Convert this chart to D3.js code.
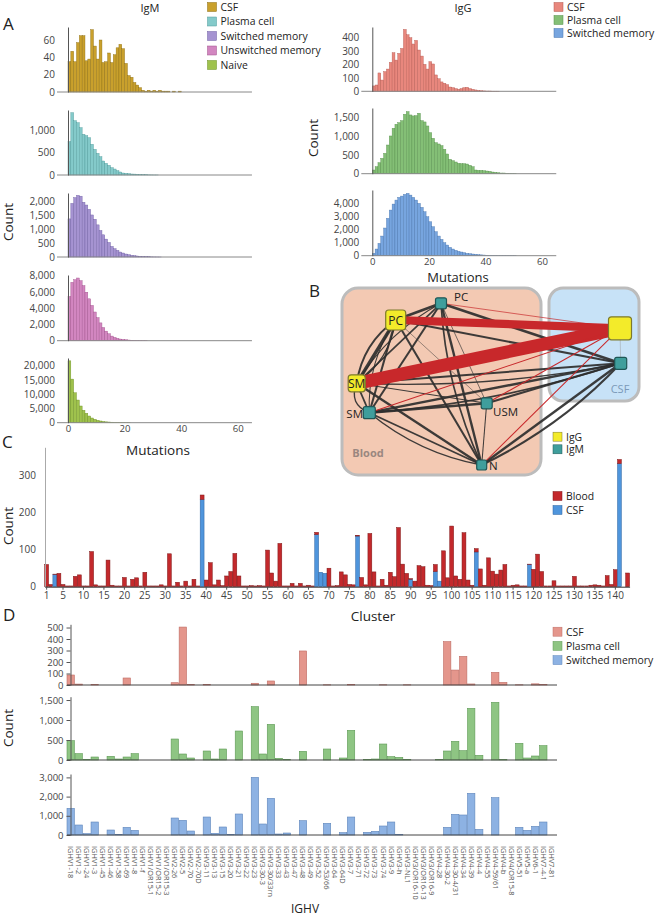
<!DOCTYPE html>
<html><head><meta charset="utf-8">
<script src="https://cdn.jsdelivr.net/npm/d3@7"></script>
<style>body{margin:0;background:#fff}svg{display:block;font-family:'Open Sans',sans-serif}</style>
</head><body><svg id="c" width="661" height="917"></svg>
<script>
// ---------------- DATA ----------------
// Panel A: mutation histograms (counts per mutation bin 0,1,2,...)
const igmCSF = [35,47,35,57,65,65,36,38,72,53,38,60,34,35,45,34,43,51,55,50,33,19,17,11,8,5,2,1,2,1,2,1,2,1,1,1,0,1,0,1];
const igmPlasma = [741,1385,1207,1163,1052,904,874,830,682,570,481,407,311,259,215,163,133,96,67,44,37,30,22,20,15,10,7,5,3,2,1,1];
const igmSwitched = [1378,1940,2150,2230,2200,1980,1880,1725,1521,1366,1162,958,803,647,527,383,300,240,180,144,108,84,60,48,36,24,18,12,8,5,3,2,1];
const igmUnswitched = [5440,7186,7511,7717,7389,6780,5968,5156,4344,3532,2842,2192,1624,1177,853,568,406,284,203,162,120,80,60,40,30,20,10,5];
const igmNaive = [21700,15300,10500,7950,5860,4350,3300,2350,1650,1190,840,600,430,300,240,180,120,90,60,40,20,10];
const iggCSF = [40,47,137,84,147,166,216,288,233,283,320,462,422,400,353,380,308,263,201,166,221,204,122,94,70,60,50,32,27,20,15,20,27,30,20,15,10,7,5,3,2,2,1,1,1];
const iggPlasma = [98,186,293,408,541,763,1003,1207,1314,1358,1411,1580,1651,1562,1536,1544,1607,1411,1376,1269,1092,941,825,790,746,648,524,382,346,311,275,266,266,257,222,186,98,89,89,80,71,62,44,36,27,18,18,9,5,3,2];
const iggSwitched = [177,505,934,1490,2100,2833,3462,3917,4220,4424,4523,4651,4727,4598,4424,4220,3970,3667,3333,2955,2576,2197,1818,1490,1237,985,808,631,505,404,328,278,227,177,151,126,101,76,63,50,38,30,25,20,15,10,8,6,4,3,2];
const igmLegend = ["CSF","Plasma cell","Switched memory","Unswitched memory","Naive"];
const iggLegend = ["CSF","Plasma cell","Switched memory"];
const mutationTicks = [0,20,40,60];

// Panel B: network
const netNodes = [
  {id:"gPC", label:"PC", iso:"IgG", comp:"Blood"},
  {id:"mPC", label:"PC", iso:"IgM", comp:"Blood"},
  {id:"gSM", label:"SM", iso:"IgG", comp:"Blood"},
  {id:"mSM", label:"SM", iso:"IgM", comp:"Blood"},
  {id:"USM", label:"USM", iso:"IgM", comp:"Blood"},
  {id:"N",   label:"N",  iso:"IgM", comp:"Blood"},
  {id:"gCSF",label:"",   iso:"IgG", comp:"CSF"},
  {id:"mCSF",label:"",   iso:"IgM", comp:"CSF"}
];
const netEdges = [
  ["gPC","mPC",8],["gPC","gSM",10],["gPC","gSM",6],["gPC","gSM",4],
  ["gPC","mSM",6],["gPC","mSM",3],["gPC","USM",1.5],["gPC","N",6],
  ["mPC","gSM",5],["mPC","gSM",3],["mPC","mSM",6],["mPC","USM",2],
  ["mPC","N",7],["mPC","N",5],["gSM","mSM",5],["gSM","mSM",4],
  ["gSM","USM",3],["gSM","N",7],["mSM","USM",7],["mSM","N",5],["mSM","N",4],["USM","N",3],
  ["gPC","mCSF",6],["mPC","mCSF",8],["gSM","mCSF",6],["gSM","mCSF",4],
  ["mSM","mCSF",7],["mSM","mCSF",5],["USM","mCSF",6],["N","mCSF",7],["N","mCSF",6],
  ["gCSF","mCSF",1],
  ["gPC","gCSF",24],["gSM","gCSF",38],["mPC","gCSF",2],["mSM","gCSF",3],["USM","gCSF",3],["N","gCSF",3]
];

// Panel C: clusters 1..143 (Blood stacked on CSF)
const clusterBlood = [60,6,1,36,6,2,2,28,32,2,2,95,5,2,2,72,4,2,2,25,2,20,24,2,39,2,2,2,5,2,89,2,12,2,15,2,20,2,12,18,65,5,18,3,29,41,90,29,2,2,3,2,3,2,99,37,15,117,2,2,9,2,9,2,4,2,6,0,0,50,2,3,40,32,6,5,2,25,5,144,40,2,20,4,39,27,160,61,36,2,15,57,54,4,3,19,0,97,24,164,29,20,146,18,4,9,48,4,78,42,34,45,60,2,4,5,2,2,1,47,88,41,2,2,16,2,2,2,2,28,2,2,2,4,5,4,2,30,6,46,11,0,37];
const clusterCSF = [0,0,33,0,0,0,0,0,0,0,0,0,0,0,0,0,0,0,0,0,0,0,0,0,0,0,0,0,0,0,0,0,0,0,0,0,0,0,236,0,0,0,0,0,0,0,0,0,0,0,0,0,0,0,0,0,0,0,0,0,0,0,0,0,0,0,141,39,36,0,0,0,0,0,0,0,137,0,0,0,0,0,0,0,0,0,0,0,0,20,0,0,0,0,0,41,15,0,0,0,0,0,0,0,0,94,0,0,0,0,0,0,0,0,0,0,0,0,60,0,0,0,0,0,0,0,0,0,0,0,0,0,0,0,0,0,0,0,0,0,333,0,0];
const clusterTicks = [1,5,10,15,20,25,30,35,40,45,50,55,60,65,70,75,80,85,90,95,100,105,110,115,120,125,130,135,140];

// Panel D: IGHV usage
const ighv = ["IGHV1-18","IGHV1-2","IGHV1-24","IGHV1-3","IGHV1-45","IGHV1-46","IGHV1-58","IGHV1-69","IGHV1-8","IGHV1-f","IGHV1/OR15-1","IGHV1/OR15-2","IGHV1/OR15-3","IGHV2-26","IGHV2-5","IGHV2-70","IGHV2-70D","IGHV3-11","IGHV3-13","IGHV3-15","IGHV3-20","IGHV3-21","IGHV3-22","IGHV3-23","IGHV3-30-3","IGHV3-30/33rn","IGHV3-33","IGHV3-43","IGHV3-47","IGHV3-48","IGHV3-49","IGHV3-52","IGHV3-53/66","IGHV3-64","IGHV3-64D","IGHV3-7","IGHV3-71","IGHV3-72","IGHV3-73","IGHV3-74","IGHV3-9","IGHV3-h","IGHV3-NL1","IGHV3/OR16-10","IGHV3/OR16-13","IGHV3/OR16-9","IGHV4-28","IGHV4-30-2","IGHV4-30-4/31","IGHV4-34","IGHV4-39","IGHV4-4","IGHV4-55","IGHV4-59/61","IGHV4-b","IGHV4/OR15-8","IGHV5-51","IGHV5-a","IGHV6-1","IGHV7-4-1","IGHV7-81"];
const ighvCSF = [87,8,0,3,0,0,0,61,0,0,0,0,0,20,504,5,0,5,0,0,0,0,0,15,0,35,0,0,0,296,0,0,2,0,0,3,0,0,0,2,0,0,2,0,0,0,0,377,130,249,9,0,0,110,23,0,2,0,10,3,0];
const ighvPlasma = [483,158,10,75,0,92,25,75,158,0,0,0,0,525,150,50,0,225,25,275,0,725,0,1333,150,892,42,17,0,217,0,0,275,0,50,742,0,17,25,400,83,67,17,0,0,0,17,225,467,233,1292,117,0,1442,8,0,417,50,100,358,0];
const ighvSwitched = [1389,521,70,677,0,260,35,400,243,0,0,0,0,885,764,208,0,937,87,417,35,1094,0,3003,573,1910,52,104,0,746,0,0,608,0,122,937,0,139,191,469,677,35,0,0,0,0,0,400,1076,1042,2170,295,0,1944,0,0,400,243,451,677,0];
const ighvLegend = ["CSF","Plasma cell","Switched memory"];

// ---------------- DRAW ----------------
const svg = d3.select("#c");
const fmt = d3.format(",");
const TXT = "#444";

function txt(x,y,s,size,opt={}){
  const t = svg.append("text").attr("x",x).attr("y",y).text(s).attr("font-size",size).attr("fill",opt.fill||"#222");
  if(opt.anchor) t.attr("text-anchor",opt.anchor);
  if(opt.weight) t.attr("font-weight",opt.weight);
  if(opt.rotate!==undefined) t.attr("transform",`rotate(${opt.rotate},${x},${y})`);
  return t;
}
function legend(x,y0,step,items,colors,strokes){
  items.forEach((s,i)=>{
    const cy = y0+i*step;
    svg.append("rect").attr("x",x).attr("y",cy-4.5).attr("width",9).attr("height",9)
      .attr("fill",colors[i]).attr("stroke",strokes?strokes[i]:"none").attr("stroke-width",0.5);
    txt(x+13,cy+3.8,s,10.4,{fill:"#222"});
  });
}
function styleAxis(g,size){
  g.selectAll("text").attr("fill",TXT).attr("font-size",size).attr("font-family","'Open Sans',sans-serif");
}

// Panel A histograms
function hist(d, x0, base, top, yMax, ticks, fill, stroke, showX){
  const x = d3.scaleLinear().domain([0,65]).range([x0, x0+65*2.83]);
  const y = d3.scaleLinear().domain([0,yMax]).range([base, top]);
  const g = svg.append("g");
  g.selectAll("rect").data(d).join("rect")
    .attr("x",(v,k)=>x(k)).attr("width",(v,k)=>x(k+1)-x(k))
    .attr("y",v=>y(v)).attr("height",v=>base-y(v))
    .attr("fill",fill).attr("stroke",stroke).attr("stroke-width",0.4);
  g.append("line").attr("x1",x0-11).attr("x2",x(65)).attr("y1",base).attr("y2",base).attr("stroke","#888").attr("stroke-width",1);
  const ya = svg.append("g").attr("transform",`translate(${x0},0)`)
    .call(d3.axisLeft(y).tickValues(ticks).tickFormat(fmt).tickSize(0).tickSizeOuter(0).tickPadding(13));
  ya.select(".domain").attr("stroke","#555");
  styleAxis(ya,10);
  if(showX){
    const xa = svg.append("g").attr("transform",`translate(0,${base})`)
      .call(d3.axisBottom(x).tickValues(mutationTicks).tickSize(0).tickPadding(2.5));
    xa.select(".domain").remove();
    styleAxis(xa,9.6);
  }
}
const igmCfg = [
  [igmCSF,92,27,75,[0,20,40,60],"#c9a02c","#8c6d12"],
  [igmPlasma,175,110,1444,[0,500,1000],"#84caca","#4f9a9a"],
  [igmSwitched,257,193,2315,[0,500,1000,1500,2000],"#a593d1","#6f5fa3"],
  [igmUnswitched,340.7,275,8086,[0,2000,4000,6000,8000],"#d286c0","#a0528c"],
  [igmNaive,422.7,358,22700,[0,5000,10000,15000,20000],"#9fc24d","#6d8f25"]
];
igmCfg.forEach((c,i)=>hist(c[0],68,c[1],c[2],c[3],c[4],c[5],c[6],i===igmCfg.length-1));
const iggCfg = [
  [iggCSF,91.3,27,480,[0,100,200,300,400],"#e8877d","#b65a52"],
  [iggPlasma,173.7,108,1747,[0,500,1000,1500],"#84bf76","#55904a"],
  [iggSwitched,255.7,190,4985,[0,1000,2000,3000,4000],"#77a5df","#4874ad"]
];
iggCfg.forEach((c,i)=>hist(c[0],372.3,c[1],c[2],c[3],c[4],c[5],c[6],i===iggCfg.length-1));

txt(3,30,"A",17,{fill:"#222"});
txt(150,12,"IgM",11,{anchor:"middle"});
txt(463,12,"IgG",11,{anchor:"middle"});
legend(207.5,7,14.5,igmLegend,igmCfg.map(c=>c[5]),igmCfg.map(c=>c[6]));
legend(554,7,13,iggLegend,iggCfg.map(c=>c[5]),iggCfg.map(c=>c[6]));
txt(13,222,"Count",13.5,{anchor:"middle",rotate:-90});
txt(318,138,"Count",13.5,{anchor:"middle",rotate:-90});
txt(158,455,"Mutations",13.5,{anchor:"middle"});
txt(458,282,"Mutations",13,{anchor:"middle"});

// Panel B network
txt(309,297,"B",17);
svg.append("rect").attr("x",342).attr("y",288).attr("width",199).attr("height",187).attr("rx",16)
  .attr("fill","#f3c9b3").attr("stroke","#bcbcbc").attr("stroke-width",3);
svg.append("rect").attr("x",549).attr("y",288).attr("width",90).attr("height",113).attr("rx",14)
  .attr("fill","#c7e2f7").attr("stroke","#bcbcbc").attr("stroke-width",3);
txt(368,457,"Blood",11,{anchor:"middle",weight:"bold",fill:"#9a8780"});
txt(620,393,"CSF",11,{anchor:"middle",fill:"#7b99b8"});
const layout = {gPC:[395.7,320,20],mPC:[441,303.3,11],gSM:[356.7,383.3,17],mSM:[369.3,412.7,12],
  USM:[486.7,403.3,11],N:[481.7,465,10],gCSF:[620,328.3,23],mCSF:[620.7,363.3,12]};
const wScale = d3.scaleLinear().domain([0,38]).range([0,13]);
const pairCount = {};
const edgeG = svg.append("g").attr("fill","none");
const ordered = netEdges.slice().sort((a,b)=>(a[1]==="gCSF")-(b[1]==="gCSF"));
ordered.forEach(([s,t,w])=>{
  const key=s+"|"+t; const k = pairCount[key]=(pairCount[key]||0); pairCount[key]++;
  const [x1,y1]=layout[s],[x2,y2]=layout[t];
  const off = k===0?0:(k%2?1:-1)*Math.ceil(k/2)*16;
  let d;
  if(!off) d=`M${x1},${y1}L${x2},${y2}`;
  else { const mx=(x1+x2)/2,my=(y1+y2)/2,dx=x2-x1,dy=y2-y1,L=Math.hypot(dx,dy);
    d=`M${x1},${y1}Q${mx-dy/L*off},${my+dx/L*off} ${x2},${y2}`; }
  const gray = s==="gCSF"&&t==="mCSF";
  edgeG.append("path").attr("d",d).attr("stroke",gray?"#999":(t==="gCSF"?"#c8282b":"#2e2e2e"))
    .attr("stroke-width",Math.max(0.5,wScale(w))).attr("stroke-opacity",t==="gCSF"?1:0.92);
});
netNodes.forEach(n=>{
  const [x,y,s]=layout[n.id];
  const igg = n.iso==="IgG";
  svg.append("rect").attr("x",x-s/2).attr("y",y-s/2).attr("width",s).attr("height",s).attr("rx",igg?3:2)
    .attr("fill",igg?"#f3eb2a":"#3f9e9c").attr("stroke",igg?"#7d7a2c":"#1f5756").attr("stroke-width",1.2);
});
txt(395.7,324.5,"PC",12,{anchor:"middle"});
txt(356.7,388,"SM",12,{anchor:"middle"});
txt(454,301,"PC",11.5);
txt(363,418,"SM",11.5,{anchor:"end"});
txt(493,416,"USM",11.5);
txt(489,470,"N",11.5);
legend(553,436.7,12.6,["IgG","IgM"],["#f3eb2a","#3f9e9c"],["#7d7a2c","#1f5756"]);

// Panel C
txt(2,448,"C",17);
const xc = d3.scaleBand().domain(d3.range(1,144)).range([44.7,44.7+143*4.09]).paddingInner(0.05);
const yc = d3.scaleLinear().domain([0,377]).range([586.7,447.3]);
const gc = svg.append("g");
d3.range(1,144).forEach(c=>{
  const csf=clusterCSF[c-1], bl=clusterBlood[c-1];
  if(csf>0) gc.append("rect").attr("x",xc(c)).attr("width",xc.bandwidth()).attr("y",yc(csf)).attr("height",yc(0)-yc(csf))
    .attr("fill","#4f95dc").attr("stroke","#2d62a0").attr("stroke-width",0.5);
  if(bl>0) gc.append("rect").attr("x",xc(c)).attr("width",xc.bandwidth()).attr("y",yc(csf+bl)).attr("height",yc(csf)-yc(csf+bl))
    .attr("fill","#c3292c").attr("stroke","#7e1717").attr("stroke-width",0.5);
});
const yca = svg.append("g").attr("transform","translate(45,0)")
  .call(d3.axisLeft(yc).tickValues([0,100,200,300]).tickSize(0).tickSizeOuter(0).tickPadding(9));
yca.select(".domain").attr("stroke","#aaa");
styleAxis(yca,10);
const xca = svg.append("g").attr("transform","translate(0,586.7)")
  .call(d3.axisBottom(xc).tickValues(clusterTicks).tickSize(3).tickSizeOuter(0).tickPadding(2));
xca.select(".domain").attr("stroke","#333");
xca.selectAll("line").attr("stroke","#555");
styleAxis(xca,10);
txt(13,526,"Count",13.5,{anchor:"middle",rotate:-90});
txt(373,621,"Cluster",13.5,{anchor:"middle"});
legend(553,496,14,["Blood","CSF"],["#c3292c","#4f95dc"],["#7e1717","#2d62a0"]);

// Panel D
txt(3,621,"D",17);
const xd = d3.scaleBand().domain(ighv).range([67,555]).paddingInner(0.08);
const rows = [
  [ighvCSF,685,624.3,528,[0,100,200,300,400,500],"#e4968c","#bf6d64"],
  [ighvPlasma,760,696.7,1583,[0,500,1000,1500],"#8ec583","#5e9a55"],
  [ighvSwitched,835,774,3177,[0,1000,2000,3000],"#8db2e3","#5f86bb"]
];
rows.forEach(([d,base,top,max,ticks,fill,stroke],ri)=>{
  const y = d3.scaleLinear().domain([0,max]).range([base,top]);
  svg.append("g").selectAll("rect").data(d).join("rect")
    .attr("x",(v,i)=>xd(ighv[i])).attr("width",xd.bandwidth())
    .attr("y",v=>y(v)).attr("height",v=>base-y(v))
    .attr("fill",fill).attr("stroke",stroke).attr("stroke-width",0.6);
  const ya = svg.append("g").attr("transform","translate(70.5,0)")
    .call(d3.axisLeft(y).tickValues(ticks).tickFormat(fmt).tickSize(4).tickSizeOuter(0).tickPadding(3));
  ya.select(".domain").attr("stroke","#555");
  ya.selectAll("line").attr("stroke","#555");
  styleAxis(ya,9.5);
  svg.append("line").attr("x1",67).attr("x2",557).attr("y1",base).attr("y2",base).attr("stroke","#444").attr("stroke-width",1);
  if(ri===rows.length-1){
    const xa = svg.append("g").attr("transform",`translate(0,${base})`)
      .call(d3.axisBottom(xd).tickSize(0));
    xa.select(".domain").remove();
    xa.selectAll("text").attr("transform","rotate(90)").attr("y",0).attr("x",11).attr("dy","0.35em")
      .attr("text-anchor","start");
    styleAxis(xa,7.4);
    xa.selectAll("text").attr("fill","#555");
  }
});
txt(13,728,"Count",13.5,{anchor:"middle",rotate:-90});
txt(305,913,"IGHV",12,{anchor:"middle"});
legend(553,631.7,14.2,ighvLegend,rows.map(r=>r[5]),rows.map(r=>r[6]));
</script></body></html>
